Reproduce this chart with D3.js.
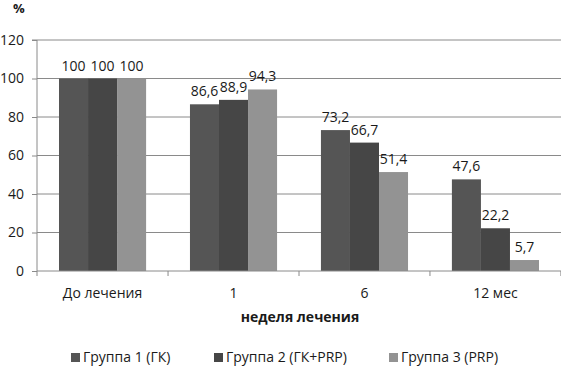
<!DOCTYPE html>
<html><head><meta charset="utf-8">
<script src="https://cdn.jsdelivr.net/npm/d3@7/dist/d3.min.js"></script>
<style>body{margin:0;background:#fff}svg{display:block}text{font-family:"Open Sans",sans-serif;fill:#1a1a1a}</style>
</head><body>
<script>
const categories = ["До лечения", "1", "6", "12 мес"];
const seriesNames = ["Группа 1 (ГК)", "Группа 2 (ГК+PRP)", "Группа 3 (PRP)"];
const group1 = [100, 86.6, 73.2, 47.6];
const group2 = [100, 88.9, 66.7, 22.2];
const group3 = [100, 94.3, 51.4, 5.7];
const yTicks = [0, 20, 40, 60, 80, 100, 120];
const colors = ["#555555", "#464646", "#939393"];

const series = [group1, group2, group3];
const W = 561, H = 368;
const m = {left: 37, right: 0, top: 40, bottom: 97};
const svg = d3.select("body").append("svg").attr("width", W).attr("height", H);

const x = d3.scaleBand().domain(categories).range([m.left, W - m.right]).paddingInner(0.335).paddingOuter(0.168);
const xs = d3.scaleBand().domain(d3.range(3)).range([0, x.bandwidth()]);
const y = d3.scaleLinear().domain([0, 120]).range([H - m.bottom, m.top]);

// gridlines
svg.append("g").selectAll("line").data(yTicks.filter(d => d > 0)).join("line")
  .attr("x1", m.left).attr("x2", W).attr("y1", d => y(d)).attr("y2", d => y(d))
  .attr("stroke", "#8a8a8a").attr("stroke-width", 1);

// y axis
const ya = svg.append("g").attr("transform", `translate(${m.left},0)`)
  .call(d3.axisLeft(y).tickValues(yTicks).tickSize(5).tickPadding(8));
ya.select(".domain").attr("stroke", "#8a8a8a").attr("d", `M-5,${y(120)}H0V${y(0)}`);
ya.selectAll(".tick line").attr("stroke", "#8a8a8a");
ya.selectAll("text").style("font-size", "14px").attr("fill", "#1a1a1a");

// bars
const fmt = v => String(v).replace(".", ",");
categories.forEach((c, i) => {
  series.forEach((s, j) => {
    const bx = x(c) + xs(j);
    svg.append("rect").attr("x", bx).attr("width", xs.bandwidth())
      .attr("y", y(s[i])).attr("height", y(0) - y(s[i])).attr("fill", colors[j]);
    svg.append("text").attr("x", bx + xs.bandwidth() / 2).attr("y", y(s[i]) - 8)
      .attr("text-anchor", "middle").style("font-size", "14px").text(fmt(s[i]));
  });
});

// x axis
const xa = svg.append("g").attr("transform", `translate(0,${y(0)})`)
  .call(d3.axisBottom(x).tickSize(0).tickPadding(17));
xa.select(".domain").attr("stroke", "#8a8a8a").attr("d", `M${m.left},0H${W}`);
xa.selectAll("text").style("font-size", "14px").attr("fill", "#1a1a1a");
const bounds = [m.left, ...categories.map(c => x(c) + x.bandwidth() + x.step() * x.paddingInner() / 2)];
svg.append("g").selectAll("line").data(bounds).join("line")
  .attr("x1", d => d).attr("x2", d => d).attr("y1", y(0)).attr("y2", y(0) + 5)
  .attr("stroke", "#8a8a8a");

// titles
svg.append("text").attr("x", 13).attr("y", 13).style("font-size", "13px").style("font-weight", "bold").text("%");
svg.append("text").attr("x", 300).attr("y", 322).attr("text-anchor", "middle")
  .style("font-size", "14px").style("font-weight", "bold").text("неделя лечения");

// legend
const legX = [71, 214, 389];
seriesNames.forEach((n, j) => {
  svg.append("rect").attr("x", legX[j]).attr("y", 353).attr("width", 9).attr("height", 9).attr("fill", colors[j]);
  svg.append("text").attr("x", legX[j] + 12).attr("y", 362).style("font-size", "14px").text(n);
});
</script>
</body></html>
